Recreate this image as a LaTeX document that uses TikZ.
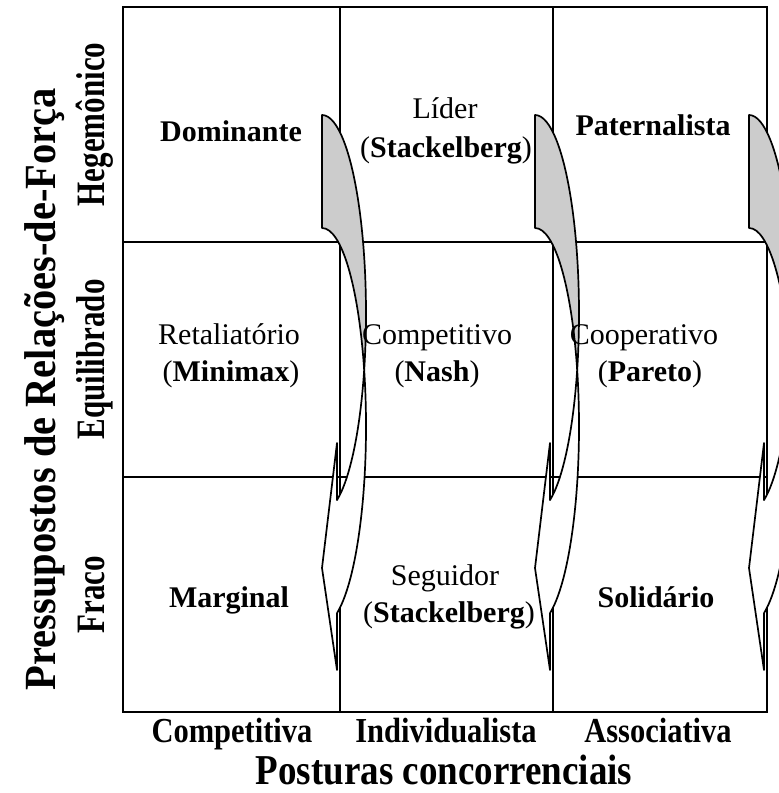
\documentclass[tikz,border=0pt]{standalone}
\usepackage{fontspec}
\setmainfont{Liberation Serif}
\definecolor{backgrey}{RGB}{204,204,204}
\newcommand\curvedarrow[1]{%
\begin{scope}[shift={(#1,0)}]
\filldraw[arrowline, fill=backgrey] (0,678)
  arc[start angle=90, end angle=-16.54, x radius=44, y radius=198.5]
  arc[start angle=16.54, end angle=90, x radius=44, y radius=198.5] -- cycle;
\filldraw[arrowline, fill=white] (42.18,423)
  arc[start angle=16.54, end angle=-70.06, x radius=44, y radius=198.5]
  -- (15,123) -- (0,225) -- (15,350) -- (15,292.9)
  arc[start angle=-70.06, end angle=-16.54, x radius=44, y radius=198.5] -- cycle;
\end{scope}}
\newcommand\tallA[1]{\scalebox{1}[1.15]{#1}}
\newcommand\tallB[1]{\scalebox{1}[1.3]{#1}}
\newcommand\tallC[1]{\scalebox{1}[1.1]{#1}}
\begin{document}
\begin{tikzpicture}[x=1pt,y=1pt,
  gridline/.style={line width=2.4pt},
  arrowline/.style={line width=1.7pt, line join=round},
  cell/.style={anchor=base, inner sep=0pt, font=\fontsize{30}{36}\selectfont},
  boldcell/.style={cell, font=\bfseries\fontsize{30}{36}\selectfont},
  axislabel/.style={anchor=base, inner sep=0pt, font=\bfseries\fontsize{30.5}{36}\selectfont},
  axistitle/.style={anchor=base, inner sep=0pt, font=\bfseries\fontsize{37}{44}\selectfont},
  rowlabel/.style={anchor=base, inner sep=0pt, rotate=90, font=\bfseries\fontsize{31}{36}\selectfont},
  rowtitle/.style={anchor=base, inner sep=0pt, rotate=90, font=\bfseries\fontsize{40.5}{48}\selectfont}]
\useasboundingbox (0,0) rectangle (779,793);
\clip (0,0) rectangle (779,793);
\fill[white] (0,0) rectangle (779,793);
% grid
\draw[gridline] (123,81) rectangle (767,786);
\draw[gridline] (340,81) -- (340,786);
\draw[gridline] (553,81) -- (553,786);
\draw[gridline] (123,551) -- (767,551);
\draw[gridline] (123,316) -- (767,316);
% curved arrows
\curvedarrow{322}
\curvedarrow{535}
\curvedarrow{749}
% row 1
\node[boldcell] (dom) at (231,651) {Dominante};
\node[cell] (lid) at (445,674) {Líder};
\node[cell] (stk1) at (446,635.5) {(\textbf{Stackelberg})};
\node[boldcell] (pat) at (653,657) {Paternalista};
% row 2
\node[cell] (ret) at (229,448) {Retaliatório};
\node[cell] (mmx) at (231,411) {(\textbf{Minimax})};
\node[cell] (cpt) at (437,448) {Competitivo};
\node[cell] (nsh) at (437,411) {(\textbf{Nash})};
\node[cell] (coo) at (644,448) {Cooperativo};
\node[cell] (par) at (650,411) {(\textbf{Pareto})};
% row 3
\node[boldcell] (mar) at (229,185) {Marginal};
\node[cell] (seg) at (445,207) {Seguidor};
\node[cell] (stk2) at (449,170) {(\textbf{Stackelberg})};
\node[boldcell] (sol) at (656,185) {Solidário};
% axis labels
\node[axislabel] (c1) at (232,50) {\tallA{Competitiva}};
\node[axislabel] (c2) at (446,50) {\tallA{Individualista}};
\node[axislabel] (c3) at (658,50) {\tallA{Associativa}};
\node[axistitle] (xt) at (444,8) {\tallA{Posturas concorrenciais}};
\node[rowlabel] (r1) at (104,668.5) {\tallB{Hegemônico}};
\node[rowlabel] (r2) at (104,433.5) {\tallB{Equilibrado}};
\node[rowlabel] (r3) at (104,198.5) {\tallB{Fraco}};
\node[rowtitle] (yt) at (56,404) {\tallC{Pressupostos de Relações-de-Força}};
\end{tikzpicture}
\end{document}
